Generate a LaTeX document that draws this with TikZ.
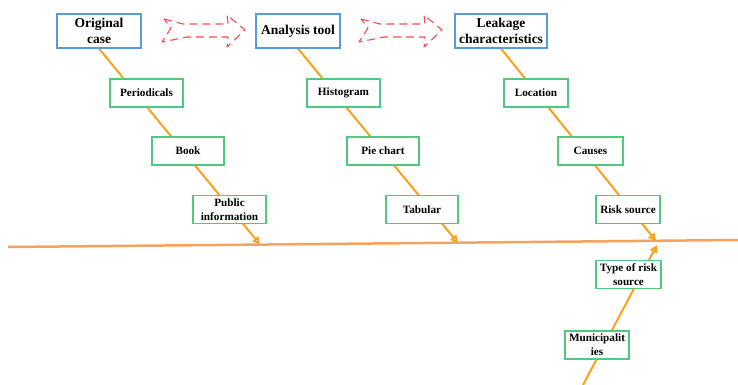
\documentclass[tikz,border=0pt]{standalone}
\usepackage{fontspec}
\setmainfont{Liberation Serif}
\usetikzlibrary{calc,arrows.meta,backgrounds}

\definecolor{boxblue}{RGB}{91,155,213}
\definecolor{boxgreen}{RGB}{80,200,125}
\definecolor{bone}{RGB}{250,160,25}
\definecolor{spine}{RGB}{246,162,95}
\definecolor{flowred}{RGB}{255,70,80}

\tikzset{
	topbox/.style={draw=boxblue, line width=1.2pt, fill=white, align=center, inner sep=2pt,
		font=\bfseries\fontsize{13.5}{16}\selectfont, minimum height=34pt},
	leafbox/.style={draw=boxgreen, line width=1.2pt, fill=white, align=center, inner sep=2pt,
		font=\bfseries\fontsize{11.2}{14}\selectfont, minimum height=28pt},
	bonearrow/.style={draw=bone, line width=2pt, -{Triangle[open,length=7.5pt,width=7.5pt]}},
	flowarrow/.pic={
		\draw[flowred, line width=1.1pt, dash pattern=on 8pt off 5pt, line join=round]
			(1,-11) -- (20,-6) -- (65,-6) -- (64,-15) -- (82,0) -- (64,17) -- (65,7) -- (24,7) -- (-1,12) -- (8,-2) -- cycle;
	}
}

\begin{document}
\begin{tikzpicture}[x=1pt,y=-1pt]
			\useasboundingbox (0,0) rectangle (738,385);

			% top row
			\node[topbox, minimum width=84pt] (orig) at (99,31) {Original\\case};
			\node[topbox, minimum width=84pt] (anal) at (298,31) {Analysis tool};
			\node[topbox, minimum width=92pt] (leak) at (501,31) {Leakage\\characteristics};

			\pic at (163,30) {flowarrow};
			\pic at (360,30) {flowarrow};

			% leaves
			\node[leafbox, minimum width=73pt] (peri) at ($(orig) + (47.5,62)$) {Periodicals};
			\node[leafbox, minimum width=72pt] (book) at ($(orig) + (89,120)$) {Book};
			\node[leafbox, minimum width=73pt] (pub) at ($(orig) + (130.5,178.5)$) {Public\\information};

			\node[leafbox, minimum width=73pt] (hist) at ($(anal) + (45.5,62)$) {Histogram};
			\node[leafbox, minimum width=72pt] (pie) at ($(anal) + (85,120)$) {Pie chart};
			\node[leafbox, minimum width=72pt] (tab) at ($(anal) + (124,178.5)$) {Tabular};

			\node[leafbox, minimum width=64pt] (loc) at ($(leak) + (35,62)$) {Location};
			\node[leafbox, minimum width=65pt] (cause) at ($(leak) + (89.5,120)$) {Causes};
			\node[leafbox, minimum width=64pt] (risk) at ($(leak) + (127,178.5)$) {Risk source};
			\node[leafbox, minimum width=65pt] (type) at ($(leak) + (127.5,243.5)$) {Type of risk\\source};
			\node[leafbox, minimum width=64pt] (muni) at ($(leak) + (96,314)$) {Municipalit\\ies};

			% spine
			\coordinate (spineL) at (8,247);
			\coordinate (spineR) at (738,240);
			\coordinate (e1) at (260,244.5);
			\coordinate (e2) at (458,243);
			\coordinate (e3) at (656,241);
			\coordinate (e4) at (657,245);
			\coordinate (tail) at (583,385);

			\begin{pgfonlayer}{background}
				\draw[spine, line width=2.5pt] (spineL) -- (spineR);
				\draw[bonearrow] (orig.south) -- (e1);
				\draw[bonearrow] (anal.south) -- (e2);
				\draw[bonearrow] (leak.south) -- (e3);
				\draw[bonearrow] (tail) -- (e4);
			\end{pgfonlayer}

		\end{tikzpicture}
\end{document}
